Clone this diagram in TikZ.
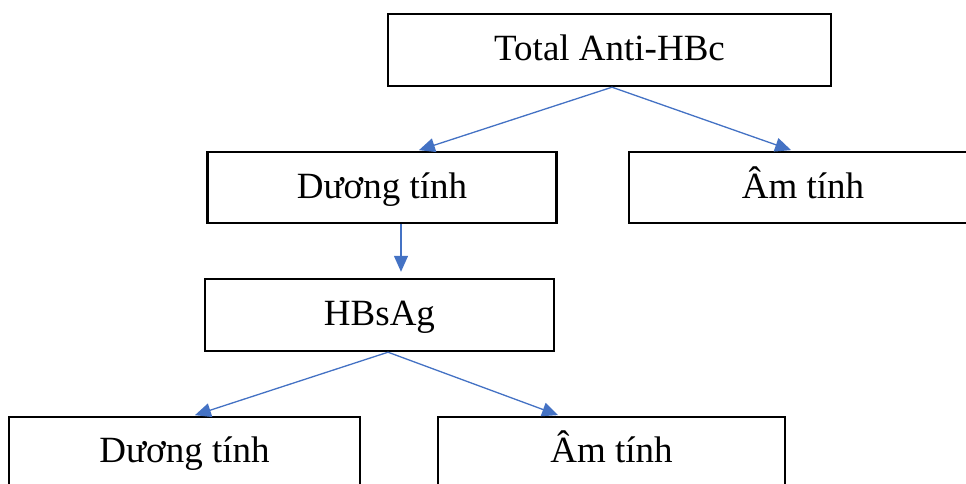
\documentclass[tikz,border=0pt]{standalone}
\usepackage{fontspec}
\setmainfont{Liberation Serif}
\usepackage{xcolor}
\usetikzlibrary{arrows.meta,positioning}

\definecolor{arrblue}{RGB}{68,114,196}

\begin{document}
\begin{tikzpicture}[
    x=1pt, y=-1pt,
    box/.style={draw, line width=2.4pt, inner sep=0pt, text height=28pt, text depth=7pt, minimum width=349pt, minimum height=71pt, font=\fontsize{37}{44}\selectfont},
    arr/.style={-{Triangle[length=16pt, width=14pt]}, draw=arrblue, fill=arrblue, line width=1.3pt}
  ]
    \useasboundingbox (0,0) rectangle (966,483);

    \node[box, minimum width=443pt, minimum height=72pt] (total) at (609.5,50) {Total Anti-HBc};
    \node[box] (pos1) at (382,187.5) {Dương tính};
    \node[box, minimum width=348pt] (neg1) at (803,187.5) {Âm tính};
    \node[box, minimum height=72pt] (hbsag) at (379.5,315) {HBsAg};
    \node[box, minimum width=351pt, minimum height=70pt] (pos2) at (184.5,452) {Dương tính};
    \node[box, minimum width=347pt, minimum height=70pt] (neg2) at (611.5,452) {Âm tính};

    \draw[arr, shorten >=2pt] ([xshift=2.5pt]total.south) -- ([xshift=35pt]pos1.north);
    \draw[arr, shorten >=2pt] ([xshift=2.5pt]total.south) -- ([xshift=-10pt]neg1.north);

    \draw[arr, shorten >=6pt] ([xshift=19pt]pos1.south) -- ([xshift=21.5pt]hbsag.north);

    \draw[arr, shorten >=2pt] ([xshift=8.5pt]hbsag.south) -- ([xshift=8.5pt]pos2.north);
    \draw[arr, shorten >=2pt] ([xshift=8.5pt]hbsag.south) -- ([xshift=-51.5pt]neg2.north);
  \end{tikzpicture}
\end{document}
